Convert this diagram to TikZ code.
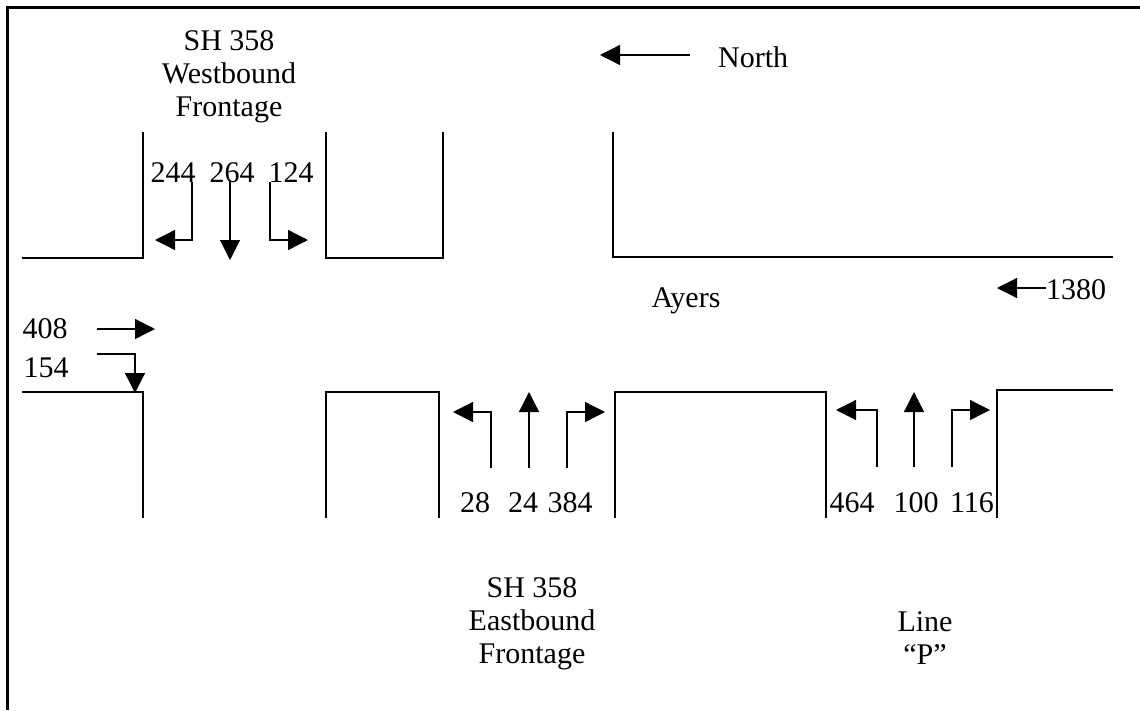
\documentclass[tikz,border=0pt]{standalone}
\usepackage{fontspec}
\setmainfont{Liberation Serif}
\usetikzlibrary{arrows.meta}

\begin{document}
\begin{tikzpicture}[x=1pt, y=-1pt, >={Triangle[length=20pt,width=20pt]},
  curb/.style={line width=1.5pt},
  move/.style={->, line width=1.3pt},
  count/.style={font=\fontsize{30}{33}\selectfont, inner sep=0pt},
  street/.style={count, align=center, anchor=north}]
\useasboundingbox (0,0) rectangle (1140,710);
% frame
\draw[line width=3pt] (1140,7) -- (7,7) -- (7,710);
% curbs, north side
\draw[curb] (22,258) -- (143,258) -- (143,132);
\draw[curb] (326,132) -- (326,258) -- (443,258) -- (443,132);
\draw[curb] (613,132) -- (613,257) -- (1113,257);
% curbs, south side
\draw[curb] (22,392) -- (143,392) -- (143,518);
\draw[curb] (326,518) -- (326,392) -- (439,392) -- (439,518);
\draw[curb] (615,518) -- (615,392) -- (826,392) -- (826,518);
\draw[curb] (997,518) -- (997,390) -- (1113,390);
% street names
\node[street] (wbf) at (229,30) {SH 358\\Westbound\\Frontage};
\node[street] (ebf) at (532,577) {SH 358\\Eastbound\\Frontage};
\node[street] (lnp) at (925,611) {Line\\``P''};
\node[count] (ayers) at (686,301) {Ayers};
\node[count, anchor=west] (north) at (718,57) {North};
\draw[move] (690,55) -- (600,55);
% counts
\node[count] (c244) at (173,173) {244};
\node[count] (c264) at (232,173) {264};
\node[count] (c124) at (291,173) {124};
\node[count] (c408) at (45,329) {408};
\node[count] (c154) at (46,368) {154};
\node[count, anchor=west] (c1380) at (1046,290) {1380};
\node[count] (c28) at (475,503) {28};
\node[count] (c24) at (523,503) {24};
\node[count] (c384) at (570,503) {384};
\node[count] (c464) at (852,503) {464};
\node[count] (c100) at (916,503) {100};
\node[count] (c116) at (972,503) {116};
% turning movements
\draw[move] (192,182) |- (155,240);
\draw[move] (230,180) -- (230,260);
\draw[move] (270,182) |- (308,240);
\draw[move] (97,329) -- (155,329);
\draw[move] (97,354) -| (135,393);
\draw[move] (1046,288) -- (997,288);
\draw[move] (491,468) |- (453,412);
\draw[move] (529,468) -- (529,392);
\draw[move] (567,468) |- (605,412);
\draw[move] (877,467) |- (836,410);
\draw[move] (914,467) -- (914,392);
\draw[move] (952,467) |- (990,410);
\end{tikzpicture}
\end{document}
